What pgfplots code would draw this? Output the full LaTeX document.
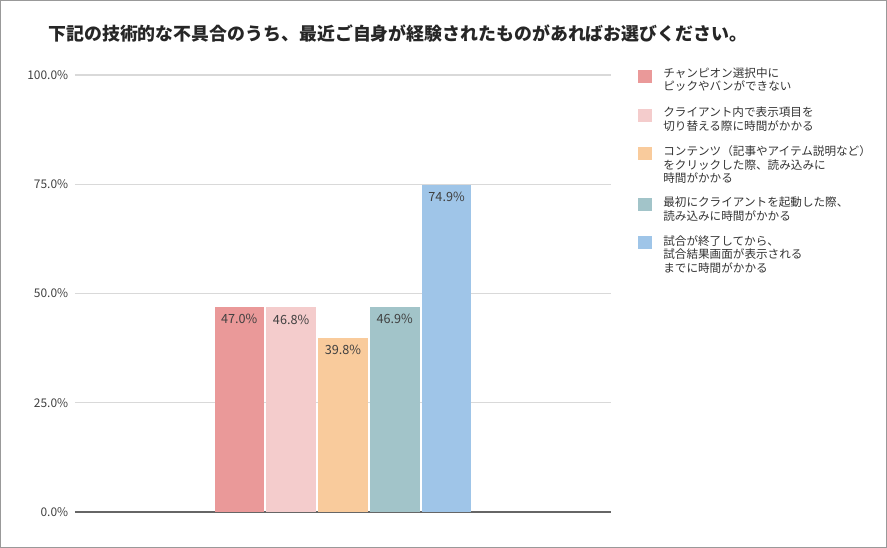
\documentclass[border=0pt]{standalone}
\usepackage{fontspec}
\setmainfont{Noto Sans CJK JP}
\usepackage{pgfplots}
\pgfplotsset{compat=1.18}

\definecolor{c1}{HTML}{EA9999}
\definecolor{c2}{HTML}{F4CCCC}
\definecolor{c3}{HTML}{F9CB9C}
\definecolor{c4}{HTML}{A2C4C9}
\definecolor{c5}{HTML}{9FC5E8}
\definecolor{txt}{HTML}{333333}

\begin{document}
\begin{tikzpicture}
% frame, title and legend laid out in pixel units of the 887x548 reference
\begin{scope}[x=0.02cm,y=-0.02cm]
  \useasboundingbox (0,0) rectangle (887,548);
  \draw[draw=black!40, line width=0.8pt] (0.7,0.7) rectangle (886.3,547.3);
  \node[anchor=base west, inner sep=0pt, text=black!85,
        font=\bfseries\fontsize{10.2}{12}\selectfont] at (48,40.8)
    {下記の技術的な不具合のうち、最近ご自身が経験されたものがあればお選びください。};
  % legend
  \tikzset{lg/.style={anchor=base west, inner sep=0pt, text=txt,
           font=\fontsize{6.6}{8}\selectfont}}
  \fill[c1] (638,70)  rectangle (652,83);
  \fill[c2] (638,109) rectangle (652,122);
  \fill[c3] (638,147) rectangle (652,160);
  \fill[c4] (638,198) rectangle (652,211);
  \fill[c5] (638,236) rectangle (652,249);
  \node[lg] at (663,77)    {チャンピオン選択中に};
  \node[lg] at (663,90.7)  {ピックやバンができない};
  \node[lg] at (663,116.5) {クライアント内で表示項目を};
  \node[lg] at (663,130.2) {切り替える際に時間がかかる};
  \node[lg] at (663,155.5) {コンテンツ（記事やアイテム説明など）};
  \node[lg] at (663,169.2) {をクリックした際、読み込みに};
  \node[lg] at (663,182.9) {時間がかかる};
  \node[lg] at (663,206.5) {最初にクライアントを起動した際、};
  \node[lg] at (663,220.2) {読み込みに時間がかかる};
  \node[lg] at (663,245)   {試合が終了してから、};
  \node[lg] at (663,258.7) {試合結果画面が表示される};
  \node[lg] at (663,272.4) {までに時間がかかる};
\end{scope}

\begin{axis}[
  at={(1.5cm,-10.24cm)}, anchor=south west,
  scale only axis, width=10.72cm, height=8.74cm,
  xmin=-5.17, xmax=5.17, ymin=0, ymax=100,
  xtick=\empty,
  ytick={0,25,50,75,100},
  yticklabels={0.0\%,25.0\%,50.0\%,75.0\%,100.0\%},
  yticklabel style={font=\fontsize{6.8}{8}\selectfont, text=black!75,
                    inner sep=0pt, xshift=-0.13cm},
  axis line style={draw=none},
  major tick length=0pt,
  ymajorgrids,
  grid style={draw=black!15, line width=0.6pt},
  clip=false,
  /pgf/number format/assume math mode=true,
  every axis plot/.append style={ybar, bar width=0.99cm, bar shift=0pt, draw=none},
  nodes near coords={\pgfmathprintnumber[fixed,fixed zerofill,precision=1]{\pgfplotspointmeta}\%},
  every node near coord/.append style={anchor=north, inner sep=0pt, yshift=-0.14cm,
        text=black!75, font=\fontsize{7.2}{8.5}\selectfont},
]
  \draw[black!60, line width=1.1pt] (axis cs:-5.17,0) -- (axis cs:5.17,0);
  \addplot[fill=c1] coordinates {(-2,47.0)};
  \addplot[fill=c2] coordinates {(-1,46.8)};
  \addplot[fill=c3] coordinates {(0,39.8)};
  \addplot[fill=c4] coordinates {(1,46.9)};
  \addplot[fill=c5] coordinates {(2,74.9)};
\end{axis}
\end{tikzpicture}
\end{document}
